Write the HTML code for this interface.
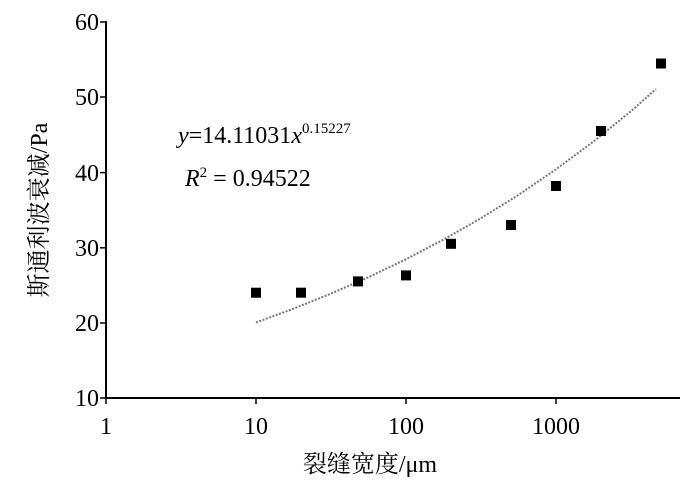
<!DOCTYPE html>
<html><head><meta charset="utf-8"><style>
html,body{margin:0;padding:0;background:#fff;}
svg{display:block;}
text{font-family:"Liberation Serif","Times New Roman","Noto Serif CJK SC",serif;}
</style></head><body>
<svg width="700" height="488" viewBox="0 0 700 488" font-family="'Liberation Serif', 'Noto Serif CJK SC', serif">
<g stroke="#000" stroke-width="2" fill="none">
<line x1="106" y1="21" x2="106" y2="399"/>
<line x1="105" y1="398" x2="680" y2="398"/>
</g>
<g stroke="#000" stroke-width="1.5">
<line x1="100" y1="22" x2="106" y2="22"/>
<line x1="100" y1="97" x2="106" y2="97"/>
<line x1="100" y1="172.6" x2="106" y2="172.6"/>
<line x1="100" y1="247.8" x2="106" y2="247.8"/>
<line x1="100" y1="323" x2="106" y2="323"/>
<line x1="100" y1="398" x2="106" y2="398"/>
<line x1="106" y1="398" x2="106" y2="404"/>
<line x1="256" y1="398" x2="256" y2="404"/>
<line x1="406" y1="398" x2="406" y2="404"/>
<line x1="556" y1="398" x2="556" y2="404"/>
</g>
<g font-size="24" fill="#000" text-anchor="end">
<text x="99" y="30">60</text>
<text x="99" y="105">50</text>
<text x="99" y="181">40</text>
<text x="99" y="256">30</text>
<text x="99" y="331">20</text>
<text x="99" y="406">10</text>
</g>
<g font-size="24" fill="#000" text-anchor="middle">
<text x="106" y="434">1</text>
<text x="256" y="434">10</text>
<text x="406" y="434">100</text>
<text x="556" y="434">1000</text>
</g>
<polyline fill="none" stroke="#777" stroke-width="2" stroke-dasharray="2,1.5" points="256,322.5 293.5,308.7 331,293.6 368.5,277.2 406,259.2 443.5,239.6 481,218.2 518.5,194.9 556,169.3 593.5,141.5 631,111.2 656,89"/>
<g fill="#000">
<rect x="251" y="287.7" width="10" height="10"/>
<rect x="296" y="287.7" width="10" height="10"/>
<rect x="353" y="276.4" width="10" height="10"/>
<rect x="401" y="270.4" width="10" height="10"/>
<rect x="446" y="238.8" width="10" height="10"/>
<rect x="506" y="220" width="10" height="10"/>
<rect x="551" y="181" width="10" height="10"/>
<rect x="596" y="126" width="10" height="10"/>
<rect x="656" y="58.5" width="10" height="10"/>
</g>
<g font-size="24" fill="#000">
<text x="178" y="143"><tspan font-style="italic">y</tspan>=14.11031<tspan font-style="italic">x</tspan><tspan font-size="15" dy="-10">0.15227</tspan></text>
<text x="185" y="186"><tspan font-style="italic">R</tspan><tspan font-size="15" dy="-9">2</tspan><tspan dy="9"> = 0.94522</tspan></text>
</g>
<text x="370" y="472" font-size="24" text-anchor="middle">裂缝宽度/μm</text>
<text transform="translate(47,210) rotate(-90)" font-size="24" text-anchor="middle">斯通利波衰减/Pa</text>
</svg>
</body></html>
